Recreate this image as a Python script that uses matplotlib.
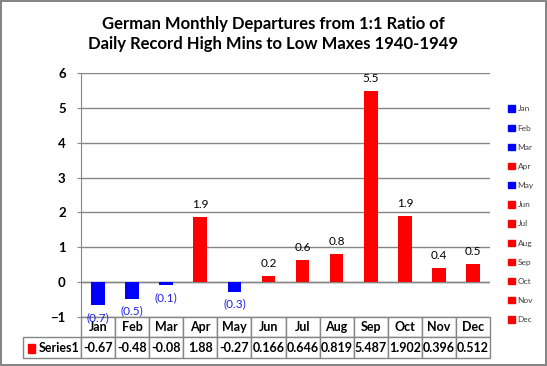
import matplotlib
matplotlib.use('Agg')
import matplotlib.pyplot as plt
from matplotlib.patches import Patch, Rectangle
import numpy as np

# data
months = ['Jan', 'Feb', 'Mar', 'Apr', 'May', 'Jun', 'Jul', 'Aug', 'Sep', 'Oct', 'Nov', 'Dec']
values = [-0.67, -0.48, -0.08, 1.88, -0.27, 0.166, 0.646, 0.819, 5.487, 1.902, 0.396, 0.512]
table_text = ['-0.67', '-0.48', '-0.08', '1.88', '-0.27', '0.166', '0.646', '0.819', '5.487', '1.902', '0.396', '0.512']
series_name = 'Series1'
title = 'German Monthly Departures from 1:1 Ratio of\nDaily Record High Mins to Low Maxes 1940-1949'

plt.rcParams['font.family'] = ['Lato', 'DejaVu Sans']
grey = '#868686'

fig = plt.figure(figsize=(5.47, 3.66), dpi=100)
fig.patch.set_edgecolor(grey)
fig.patch.set_linewidth(1.5)

ax = fig.add_axes([0.148, 0.134, 0.748, 0.6665])

x = np.arange(len(months))
cols = ['#0000FF' if v < 0 else '#FF0000' for v in values]
ax.bar(x, values, width=0.4, color=cols, zorder=3)

ax.set_xlim(-0.5, len(months) - 0.5)
ax.set_ylim(-1, 6)
ax.set_yticks(range(-1, 7))
ax.set_xticks([])
ax.grid(axis='y', color=grey, lw=1, zorder=0)
ax.axhline(0, color=grey, lw=1, zorder=2)
for s in ['top', 'right', 'bottom']:
    ax.spines[s].set_visible(False)
ax.spines['left'].set_color(grey)
ax.tick_params(axis='y', length=3, color=grey, labelsize=9.5, pad=8)
for t in ax.get_yticklabels():
    t.set_fontweight('bold')

# data labels
for xi, v in zip(x, values):
    if v >= 0:
        ax.annotate('%.1f' % v, (xi, v), xytext=(0, 5), textcoords='offset points',
                    ha='center', va='bottom', fontsize=8.5, color='black')
    else:
        ax.annotate('(%.1f)' % abs(v), (xi, v), xytext=(0, -5), textcoords='offset points',
                    ha='center', va='top', fontsize=8.5, color='#2020E0', zorder=5)

# data table below
cell_text = [[''] + months, [series_name] + table_text]
w0 = 58 / 409
wm = 1.0 / 12
tbl = ax.table(cellText=cell_text, colWidths=[w0] + [wm] * 12,
               bbox=[-w0, -0.168, 1 + w0, 0.168], cellLoc='center')
tbl.auto_set_font_size(False)
tbl.set_fontsize(9)
for (r, c), cell in tbl.get_celld().items():
    cell.set_edgecolor(grey)
    cell.set_linewidth(1)
    cell.get_text().set_fontweight('bold')
    cell.PAD = 0.02
    if r == 0 and c == 0:
        cell.visible_edges = ''
    if r == 1 and c == 0:
        cell.get_text().set_ha('right')
        cell._loc = 'right'
fig.add_artist(Rectangle((28 / 547, 1 - 353 / 366), 7 / 547, 9 / 366,
                         transform=fig.transFigure, color='#FF0000'))

# legend
handles = [Patch(color=c) for c in cols]
fig.legend(handles, months, loc='upper left', bbox_to_anchor=(505 / 547, 1 - 102 / 366),
           frameon=False, fontsize=6, handlelength=0.8, handleheight=0.8,
           handletextpad=0.3, labelspacing=1.45, borderaxespad=0, labelcolor='#404040')

fig.text(0.5, 0.955, title, ha='center', va='top', fontsize=12, fontweight='bold',
         linespacing=1.3)

fig.savefig('out.png', dpi=100)
